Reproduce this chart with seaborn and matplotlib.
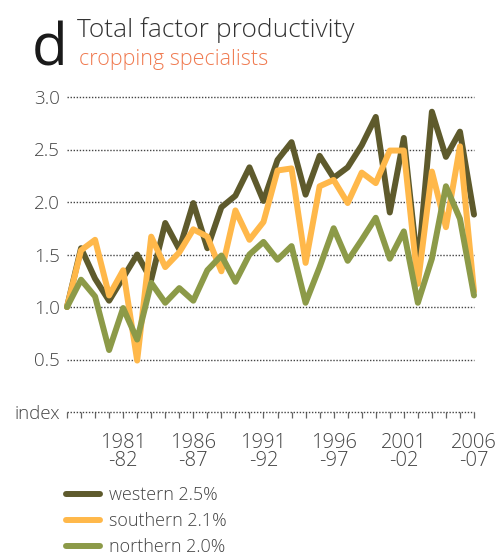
import pandas as pd
import numpy as np
import matplotlib
matplotlib.use("Agg")
import matplotlib.pyplot as plt
import seaborn as sns

# crop years (start year of each season, 1977-78 .. 2006-07)
years = list(range(1977, 2007))

# total factor productivity index
western = [1.00, 1.56, 1.27, 1.06, 1.28, 1.50, 1.26, 1.80, 1.55, 1.99,
           1.56, 1.95, 2.06, 2.33, 2.01, 2.40, 2.57, 2.07, 2.44, 2.23,
           2.33, 2.54, 2.81, 1.90, 2.61, 1.37, 2.86, 2.43, 2.67, 1.88]
southern = [1.00, 1.54, 1.64, 1.11, 1.35, 0.49, 1.67, 1.38, 1.52, 1.74,
            1.67, 1.34, 1.92, 1.64, 1.81, 2.30, 2.32, 1.42, 2.15, 2.21,
            1.99, 2.28, 2.18, 2.49, 2.49, 1.22, 2.29, 1.76, 2.53, 1.15]
northern = [1.00, 1.26, 1.10, 0.59, 0.99, 0.69, 1.23, 1.04, 1.18, 1.06,
            1.35, 1.49, 1.24, 1.50, 1.62, 1.45, 1.58, 1.04, 1.38, 1.75,
            1.44, 1.64, 1.85, 1.46, 1.72, 1.04, 1.46, 2.15, 1.84, 1.11]

region_labels = ["western 2.5%", "southern 2.1%", "northern 2.0%"]
label_years = [1981, 1986, 1991, 1996, 2001, 2006]
y_ticks = [0.0, 0.5, 1.0, 1.5, 2.0, 2.5, 3.0]
y_ticklabels = ["index", "0.5", "1.0", "1.5", "2.0", "2.5", "3.0"]

palette = {
    "western 2.5%": "#5e5a2c",
    "southern 2.1%": "#ffb84a",
    "northern 2.0%": "#8c9a48",
}

df = pd.DataFrame({
    "year": years * 3,
    "tfp": western + southern + northern,
    "region": [r for r in region_labels for _ in years],
})

sns.set_style("white")
plt.rcParams["font.family"] = ["Open Sans", "DejaVu Sans"]
plt.rcParams["font.weight"] = "light"

fig = plt.figure(figsize=(4.98, 5.57), dpi=100)
ax = fig.add_axes([67 / 498, 145 / 557, 407 / 498, 315 / 557])

sns.lineplot(data=df, x="year", y="tfp", hue="region", palette=palette,
             hue_order=region_labels, linewidth=4.3, ax=ax, legend=False,
             clip_on=False, zorder=3)

ax.set_xlim(years[0], years[-1])
ax.set_ylim(0, 3.0)
for s in ax.spines.values():
    s.set_visible(False)

# dotted gridlines (0 line doubles as the axis)
for v in y_ticks:
    ax.axhline(v, color="#444444", linestyle=(0, (1, 1.2)), linewidth=1.0,
               zorder=1, clip_on=False)

ax.set_yticks(y_ticks)
ax.set_yticklabels(y_ticklabels)
ax.tick_params(axis="y", left=False, length=0, pad=5, labelsize=13.5,
               labelcolor="#444444")

ax.set_xticks(years)
ax.set_xticklabels([f"{y}\n-{(y + 1) % 100:02d}" if y in label_years else ""
                    for y in years], linespacing=0.9)
ax.tick_params(axis="x", bottom=True, length=4, width=0.9, color="#666666",
               pad=11, labelsize=14.5, labelcolor="#444444", direction="out")
ax.set_xlabel("")
ax.set_ylabel("")

# title block
fig.text(32 / 498, 1 - 65 / 557, "d", fontsize=42, fontweight="normal",
         color="#1a1a1a", va="baseline", ha="left")
fig.text(77 / 498, 1 - 37 / 557, "Total factor productivity", fontsize=19,
         color="#333333", va="baseline", ha="left")
fig.text(79 / 498, 1 - 65 / 557, "cropping specialists", fontsize=15.5,
         color="#f07a50", va="baseline", ha="left")

# legend
handles = [plt.Line2D([], [], color=palette[r], linewidth=4.3,
                      solid_capstyle="round") for r in region_labels]
leg = fig.legend(handles, region_labels, loc="upper left",
                 bbox_to_anchor=(66 / 498, 1 - 486 / 557), frameon=False,
                 borderpad=0, borderaxespad=0, handlelength=1.9,
                 handletextpad=0.5, labelspacing=0.45, fontsize=13)
for t in leg.get_texts():
    t.set_color("#444444")

fig.savefig("out.png", dpi=100)
